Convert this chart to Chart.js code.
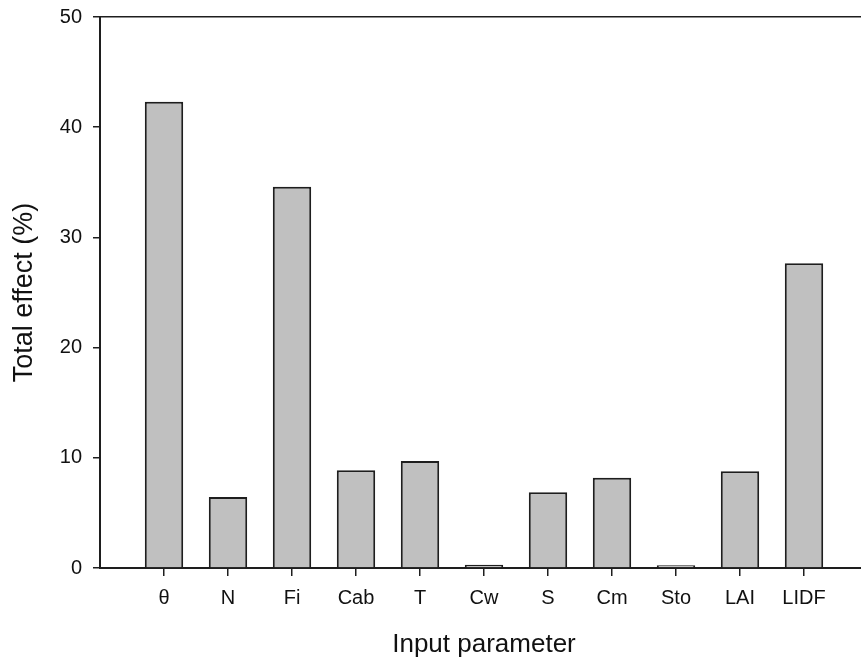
<!DOCTYPE html>
<html>
<head>
<meta charset="utf-8">
<script src="https://cdn.jsdelivr.net/npm/chart.js@4.4.1/dist/chart.umd.min.js"></script>
<style>
  html, body { margin: 0; padding: 0; background: #fff; overflow: hidden; }
  #wrap { width: 880px; height: 661px; }
</style>
</head>
<body>
<div id="wrap"><canvas id="effect-chart" width="880" height="661"></canvas></div>
<script>
const categories = ["θ", "N", "Fi", "Cab", "T", "Cw", "S", "Cm", "Sto", "LAI", "LIDF"]
const totalEffect = [42.3, 6.45, 34.6, 8.87, 9.7, 0.3, 6.87, 8.2, 0.25, 8.77, 27.65]
const yTicks = [0, 10, 20, 30, 40, 50]

const ink = "#1e1e1e"
const fontFamily = "'Liberation Sans', Arial, sans-serif"

document.addEventListener("DOMContentLoaded", () => {
  const points = categories.map((name, i) => ({ x: i + 1, y: totalEffect[i] }))

  new Chart(document.getElementById("effect-chart"), {
    type: "bar",
    data: {
      datasets: [{
        data: points,
        backgroundColor: "#c0c0c0",
        borderColor: ink,
        borderWidth: 2,
        barPercentage: 0.6,
        categoryPercentage: 1
      }]
    },
    options: {
      responsive: false,
      animation: false,
      devicePixelRatio: 1,
      layout: { padding: { top: 17, right: 12, left: 0, bottom: 0 } },
      plugins: {
        legend: { display: false },
        tooltip: { enabled: false }
      },
      scales: {
        x: {
          type: "linear",
          offset: false,
          min: 0,
          max: categories.length + 1,
          afterBuildTicks: scale => {
            scale.ticks = categories.map((name, i) => ({ value: i + 1 }))
          },
          afterFit: scale => {
            scale.height = 93
            scale.paddingLeft = 0
            scale.paddingRight = 0
          },
          ticks: {
            autoSkip: false,
            maxRotation: 0,
            padding: 10,
            color: "#111",
            font: { family: fontFamily, size: 20 },
            callback: value => categories[value - 1]
          },
          grid: { offset: false, drawOnChartArea: false, tickLength: 8, color: ink, lineWidth: 1.5 },
          border: { color: ink, width: 2 },
          title: {
            display: true,
            text: "Input parameter",
            color: "#111",
            font: { family: fontFamily, size: 26 },
            padding: { top: 0, bottom: 1 }
          }
        },
        y: {
          min: 0,
          max: 50,
          afterBuildTicks: scale => {
            scale.ticks = yTicks.map(v => ({ value: v }))
          },
          afterFit: scale => {
            scale.width = 100
            scale.paddingTop = 0
            scale.paddingBottom = 0
          },
          ticks: {
            padding: 11,
            color: "#111",
            font: { family: fontFamily, size: 20 }
          },
          grid: {
            tickLength: 7,
            lineWidth: 1.5,
            tickColor: ink,
            color: ctx => (ctx.tick && ctx.tick.value === 50 ? ink : "rgba(0,0,0,0)")
          },
          border: { color: ink, width: 2 },
          title: {
            display: true,
            text: "Total effect (%)",
            color: "#111",
            font: { family: fontFamily, size: 27 },
            padding: { top: 8, bottom: 0 }
          }
        }
      }
    }
  })
})
</script>
</body>
</html>
